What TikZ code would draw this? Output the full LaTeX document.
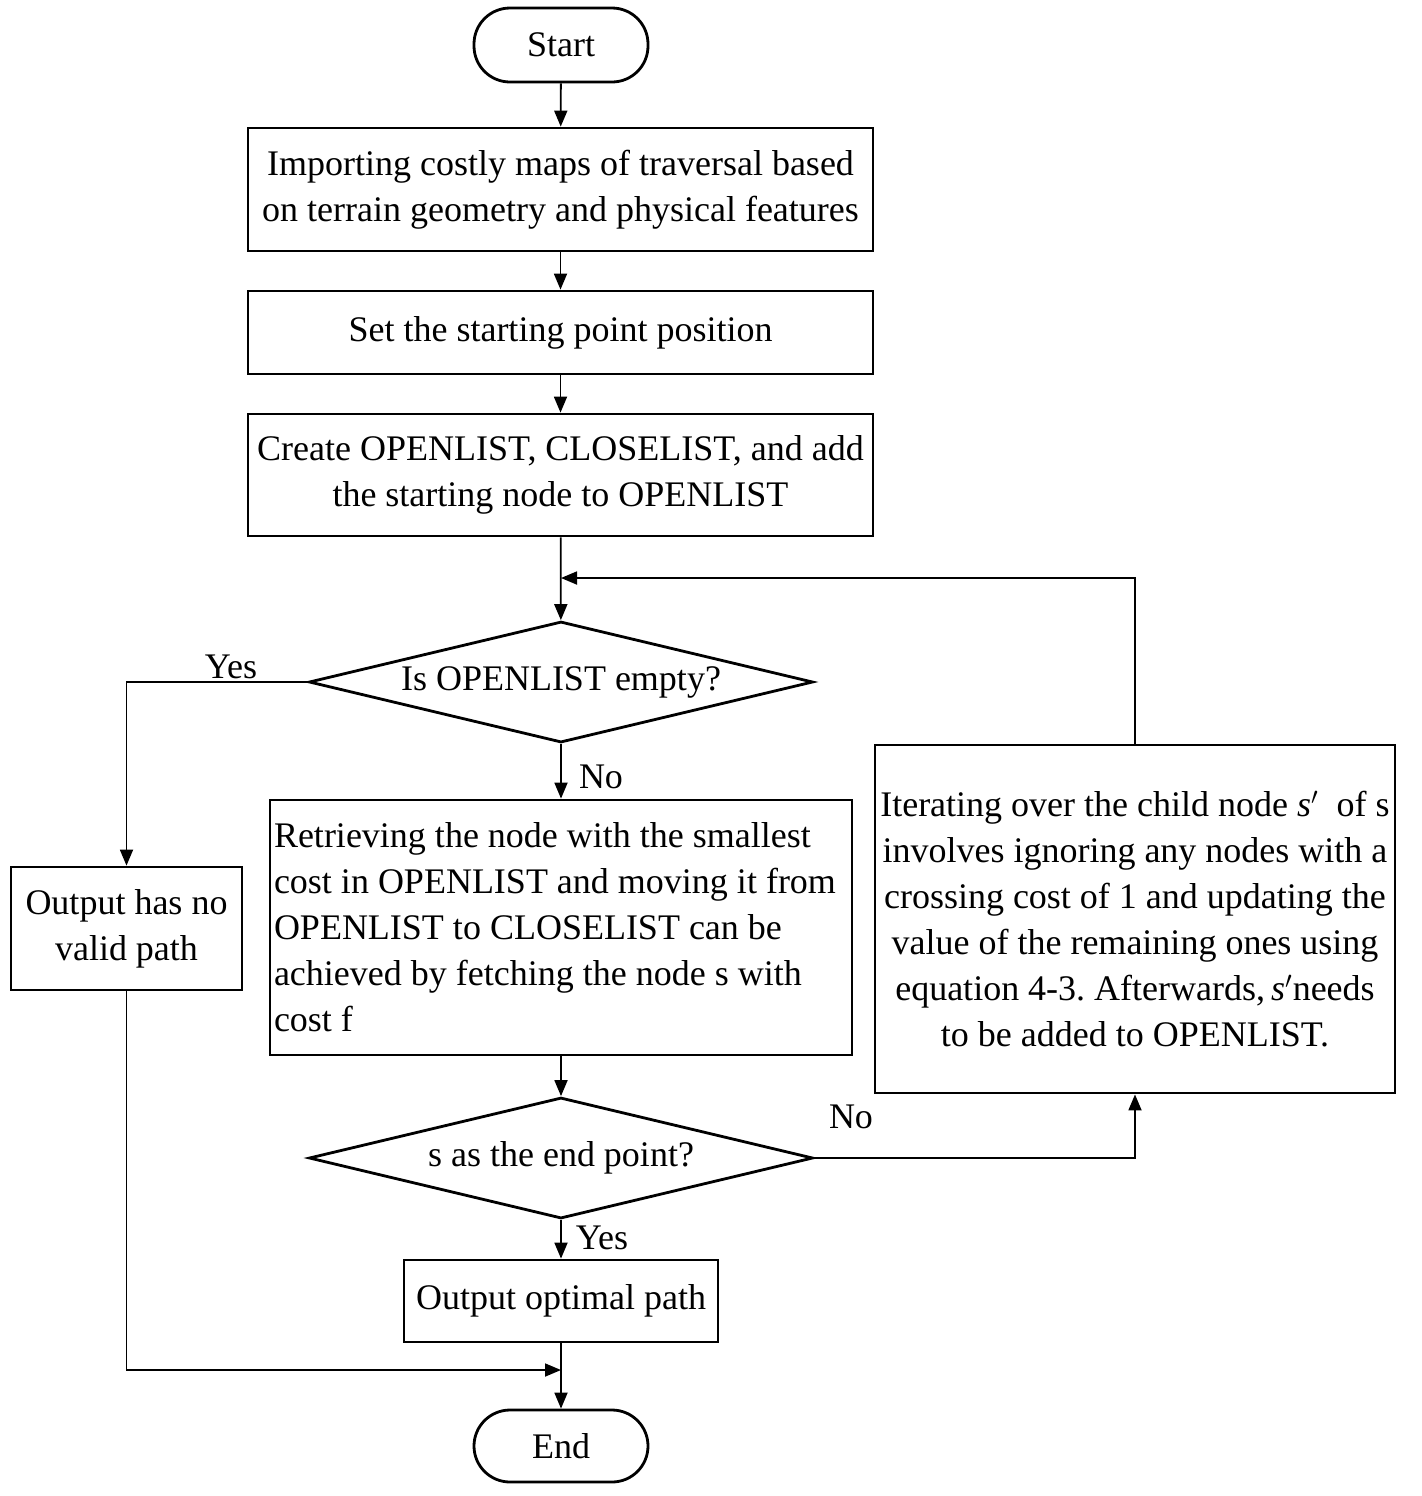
\documentclass[tikz,border=0pt]{standalone}
\usepackage{fontspec}
\setmainfont{Liberation Serif}
\usetikzlibrary{arrows.meta,shapes.geometric}
\frenchspacing
\begin{document}
\begin{tikzpicture}[x=0.5pt,y=-0.5pt,
  font=\fontsize{18}{23}\selectfont,
  box/.style={draw,line width=1.4pt,rectangle,inner sep=0pt,align=center},
  term/.style={draw,line width=1.4pt,rectangle,rounded corners=18pt,inner sep=0pt},
  dec/.style={draw,line width=1.4pt,diamond,inner sep=0pt,aspect=4.17,minimum width=252pt,minimum height=60.5pt},
  conn/.style={line width=0.9pt,-{Triangle[length=8pt,width=6.5pt]}},
  lbl/.style={inner sep=0pt}]
\useasboundingbox (0,0) rectangle (1421,1496);
\node[term,minimum width=87pt,minimum height=37pt] (start) at (561,45) {Start};
\node[box,minimum width=312.5pt,minimum height=61.5pt] (b1) at (560.5,189.5) {Importing costly maps of traversal based\\on terrain geometry and physical features};
\node[box,minimum width=312.5pt,minimum height=41.5pt] (b2) at (560.5,332.5) {Set the starting point position};
\node[box,minimum width=312.5pt,minimum height=61pt] (b3) at (560.5,475) {Create OPENLIST, CLOSELIST, and add\\the starting node to OPENLIST};
\node[dec] (d1) at (561,682) {Is OPENLIST empty?};
\node[box,minimum width=291pt,minimum height=127.5pt,text width=287pt,align=flush left] (ret) at (561,927.5) {Retrieving the node with the smallest\\cost in OPENLIST and moving it from\\OPENLIST to CLOSELIST can be\\achieved by fetching the node s with\\cost f};
\node[box,minimum width=260pt,minimum height=174pt] (it) at (1135,919) {Iterating over the child node \textit{s}$'$\ \ of s\\involves ignoring any nodes with a\\crossing cost of 1 and updating the\\value of the remaining ones using\\equation 4-3. Afterwards,\,\textit{s}$'$needs\\to be added to OPENLIST.};
\node[dec] (d2) at (561,1158) {s as the end point?};
\node[box,minimum width=157pt,minimum height=41pt] (op) at (561,1301) {Output optimal path};
\node[term,minimum width=87pt,minimum height=36pt] (end) at (561,1446) {End};
\node[box,minimum width=115.5pt,minimum height=61.5pt] (nv) at (126.5,928.5) {Output has no\\valid path};
\coordinate (j1) at (561,578);
\coordinate (j2) at (561,1370);
\draw[conn] (start) -- (b1);
\draw[conn] (b1) -- (b2);
\draw[conn] (b2) -- (b3);
\draw[conn] (b3) -- (d1);
\draw[conn] (d1.west) -| (nv.north);
\draw[conn] (d1.south) -- (ret.north);
\draw[conn] (ret.south) -- (d2.north);
\draw[conn] (d2.south) -- (op.north);
\draw[conn] (op.south) -- (end.north);
\draw[conn] (d2.east) -| (it.south);
\draw[conn] (it.north) |- (j1);
\draw[conn] (nv.south) |- (j2);
\node[lbl] (yes1) at (231,667) {Yes};
\node[lbl] (no1) at (601,777) {No};
\node[lbl] (no2) at (851,1117) {No};
\node[lbl] (yes2) at (602,1238) {Yes};
\end{tikzpicture}
\end{document}
